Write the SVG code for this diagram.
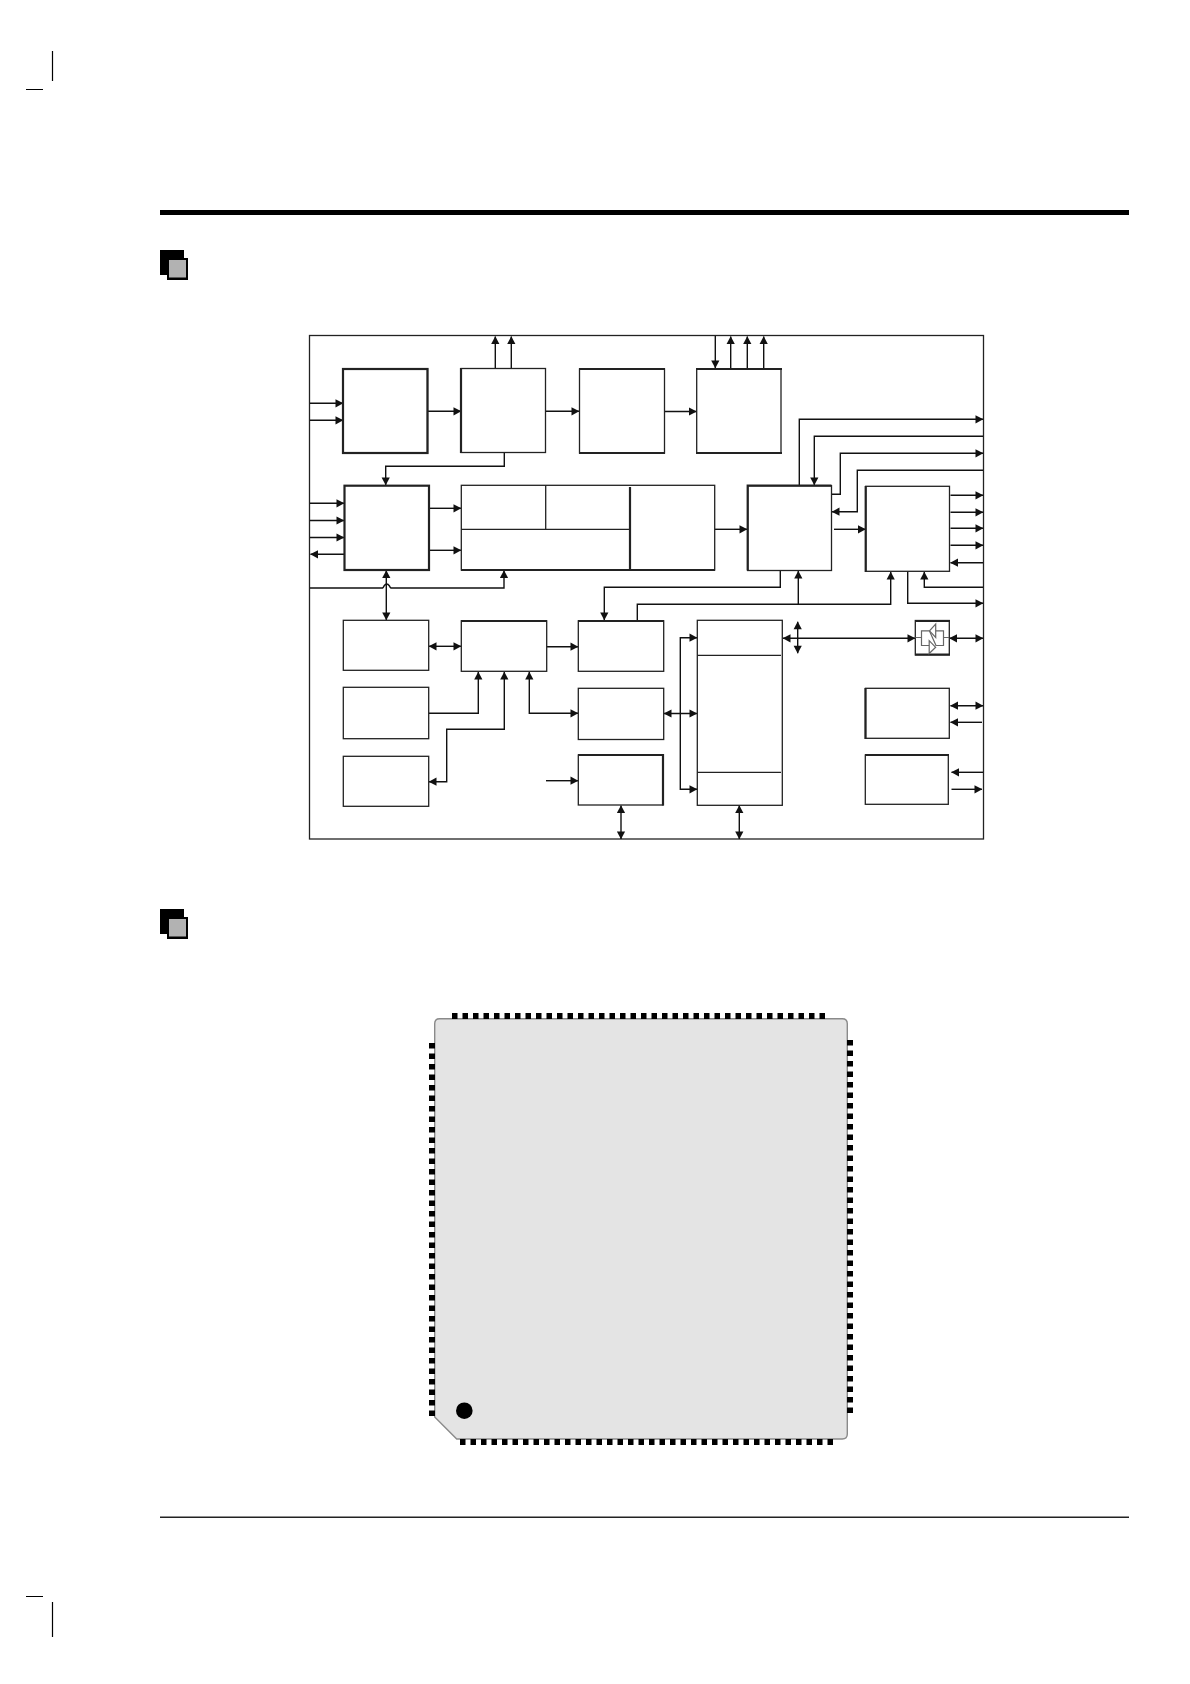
<svg xmlns="http://www.w3.org/2000/svg" width="1190" height="1684" viewBox="0 0 1190 1684">
<defs>
<style>
.box{fill:#fff;stroke:#222;stroke-width:1.3}
.thick{fill:none;stroke:#222;stroke-width:2.2}
.c{fill:none;stroke:#111;stroke-width:1.4}
.a{marker-end:url(#ah)}
.b{marker-start:url(#ah);marker-end:url(#ah)}
.pin{fill:none;stroke:#000;stroke-width:6;stroke-dasharray:5.5 5}
.sym{fill:none;stroke:#666;stroke-width:1.2}
.mark{stroke:#000;stroke-width:1.2;fill:none}
</style>
<marker id="ah" markerUnits="userSpaceOnUse" markerWidth="9" markerHeight="9" refX="8" refY="4.500" orient="auto-start-reverse" viewBox="0 0 9 9"><path d="M0.500 0.400L8.300 4.500L0.500 8.600Z" fill="#111"/></marker>
<g id="bullet"><rect x="160" y="250" width="24" height="25" fill="#000"/><rect x="167" y="258" width="21" height="22" fill="#000"/><rect x="169" y="260" width="17" height="17.500" fill="#b2b2b2"/></g>
</defs>
<rect width="1190" height="1684" fill="#fff"/>
<g id="page">
<path class="mark" d="M52.500 51V81M26 89.500H43M26 1596.500H43M52.500 1602V1637"/>
<rect x="160" y="210" width="969" height="5" fill="#000"/>
<rect x="160" y="1516.500" width="969" height="1.500" fill="#222"/>
<use href="#bullet"/>
<use href="#bullet" y="659"/>
</g>
<rect id="frame" x="309.500" y="335.500" width="674" height="503.500" fill="none" stroke="#222" stroke-width="1.300"/>
<g id="connectors">
<path class="c a" d="M310 403.300H343"/><path class="c a" d="M310 420.300H343"/>
<path class="c a" d="M428 411.300H461"/><path class="c a" d="M546 411.300H579"/><path class="c a" d="M663.300 411.500H696.500"/>
<path class="c a" d="M495.300 368V336.500"/><path class="c a" d="M511.300 368V336.500"/>
<path class="c a" d="M715.300 336V368"/><path class="c a" d="M730.700 368V336.500"/><path class="c a" d="M747.300 368V336.500"/><path class="c a" d="M763.700 368V336.500"/>
<path class="c a" d="M504.300 453V466.300H385.700V485"/>
<path class="c a" d="M310 503.300H344"/><path class="c a" d="M310 520.500H344"/><path class="c a" d="M310 537.500H344"/><path class="c a" d="M344 554.300H310.500"/>
<path class="c a" d="M429 508.300H461"/><path class="c a" d="M429 550.300H461"/>
<path class="c a" d="M310 588H382.500Q383.500 587.500 384 586Q386.700 582 389.500 586Q390 587.500 391 588H504V570.500"/>
<path class="c b" d="M386.300 570.500V620"/>
<path class="c a" d="M715 529.300H747"/><path class="c a" d="M834 529.300H865.500"/>
<path class="c a" d="M799.300 485V419.300H983"/>
<path class="c a" d="M983 436.300H814.300V485"/>
<path class="c a" d="M832 494.300H840.300V453.300H983"/>
<path class="c a" d="M983 470.300H857.300V511.700H832"/>
<path class="c a" d="M950.500 495.300H983"/><path class="c a" d="M950.500 512.300H983"/><path class="c a" d="M950.500 528.300H983"/><path class="c a" d="M950.500 545.300H983"/><path class="c a" d="M983 562.700H950.500"/>
<path class="c a" d="M637.300 620V604.300H890.700V572"/>
<path class="c a" d="M798.300 604.300V571"/>
<path class="c a" d="M907.700 571V603.300H983"/>
<path class="c a" d="M983 587.300H924.300V572"/>
<path class="c a" d="M780.300 571V587.300H604.300V620"/>
<path class="c b" d="M429 646.300H461"/>
<path class="c a" d="M544.300 646.700H578"/>
<path class="c a" d="M429 713.300H478.300V672"/>
<path class="c b" d="M504.300 672V729.300H446.700V781.700H429"/>
<path class="c b" d="M529.300 672V713.300H578"/>
<path class="c b" d="M664 713.500H697"/>
<path class="c b" d="M697 637.700H680.300V789.300H697"/>
<path class="c a" d="M546 780.700H578"/>
<path class="c b" d="M621 805.500V839"/><path class="c b" d="M739.300 805.500V839"/>
<path class="c b" d="M783 638.300H915"/><path class="c b" d="M797.700 621.700V653.300"/>
<path class="c b" d="M949.500 638.300H983"/>
<path class="c b" d="M950.500 705.700H983"/><path class="c a" d="M982 722.300H950.500"/>
<path class="c a" d="M983 772.300H951.500"/><path class="c a" d="M951.500 789.300H982"/>
</g>
<g id="node-a"><rect class="box" x="343" y="369" width="84.500" height="84"/><rect class="thick" x="343" y="369" width="84.500" height="84"/></g>
<g id="node-b"><rect class="box" x="461" y="368.500" width="84.500" height="84"/><path class="thick" d="M461 368V453"/></g>
<g id="node-c"><rect class="box" x="579.500" y="369" width="85" height="84"/><path class="thick" d="M579 369H665M579 453H665"/></g>
<g id="node-d"><rect class="box" x="696.700" y="369" width="84.300" height="84"/><path class="thick" d="M696 369H782M696 453H782"/></g>
<g id="node-e"><rect class="thick" x="344.500" y="485.700" width="84.500" height="84.300" style="fill:#fff"/></g>
<g id="node-f"><rect class="box" x="461.300" y="485.300" width="253.400" height="84.700"/><path class="box" d="M545.700 485.300V529.300M461.300 529.300H630"/><path class="thick" d="M630 487V570M461 570H715"/></g>
<g id="node-g"><rect class="box" x="747.700" y="485.700" width="83.800" height="84.800"/><path class="thick" d="M747.700 570.500V485.700H831.500"/></g>
<g id="node-h"><rect class="box" x="865.700" y="486.300" width="83.800" height="85"/><path class="thick" d="M865.700 486V572"/></g>
<g id="node-i"><rect class="box" x="343.300" y="620.300" width="85.400" height="50"/></g>
<g id="node-j"><rect class="box" x="461.300" y="620.800" width="85.400" height="50.500"/><path class="thick" d="M461 621H547"/></g>
<g id="node-k"><rect class="box" x="578.300" y="620.800" width="85.400" height="50.500"/><path class="thick" d="M578 621H664"/></g>
<g id="node-l"><rect class="box" x="697.300" y="620.300" width="85" height="185"/><path class="box" d="M697.300 655.300H781M697.300 772.300H781"/></g>
<g id="node-m"><rect class="box" x="343.300" y="687.300" width="85.400" height="51.400"/></g>
<g id="node-n"><rect class="box" x="578.300" y="688.300" width="85.400" height="51.200"/></g>
<g id="node-o"><rect class="box" x="343.300" y="756.300" width="85.400" height="50"/></g>
<g id="node-p"><rect class="box" x="578.300" y="755" width="84.700" height="50"/><path class="thick" d="M578 755H663V805.500"/></g>
<g id="node-q"><rect class="box" x="865.500" y="688.300" width="83.800" height="50"/><path class="thick" d="M865.500 688V739"/></g>
<g id="node-r"><rect class="box" x="865.300" y="755" width="83" height="49.300"/><path class="thick" d="M865 755H949"/></g>
<g id="node-s"><rect class="box" x="915.300" y="620.500" width="34" height="34.500"/><path class="thick" d="M915 621H950M915 654.500H950"/>
<path class="sym" d="M915.500 637.500H921.500V645.500H929.500M921.500 637.500V630.800H929.500M943.500 637.500H949M943.500 637.500V630.800H935.500M943.500 637.500V645.500H935.500M929.500 631L936 645.500"/>
<path class="sym" d="M929.500 630.800L935.700 624V637.500Z" style="fill:#fff"/>
<path class="sym" d="M935.700 647.300L929.200 640.700V653.500Z" style="fill:#fff"/></g>
<g id="chip">
<path d="M439.500 1018.700H842.300Q847.300 1018.700 847.300 1023.700V1434Q847.300 1439 842.300 1439H456.700L434.700 1417V1023.700Q434.700 1018.700 439.500 1018.700Z" fill="#e4e4e4" stroke="#8a8a8a" stroke-width="1.400"/>
<path class="pin" d="M452 1016H825.500"/>
<path class="pin" d="M460 1442H834.500"/>
<path class="pin" d="M432 1043V1417"/>
<path class="pin" d="M850 1040V1413"/>
<circle cx="464.300" cy="1410.700" r="8.300" fill="#000"/>
</g>
</svg>
